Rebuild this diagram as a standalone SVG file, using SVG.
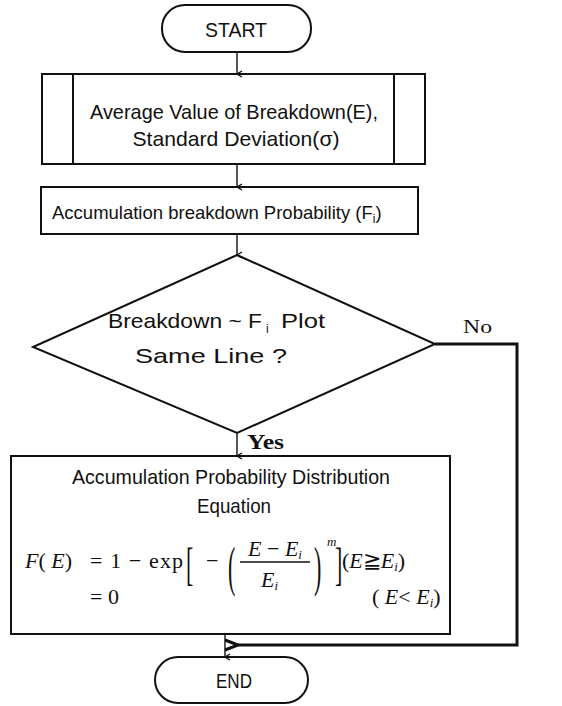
<svg xmlns="http://www.w3.org/2000/svg" width="562" height="706" viewBox="0 0 562 706">
<style>
.shape{fill:#fff;stroke:#111;stroke-width:2}
.conn{fill:none;stroke:#111;stroke-width:1.4}
.bold{fill:none;stroke:#111;stroke-width:3}
.t{font-family:"Liberation Sans",Arial,sans-serif;font-size:21px;fill:#111}
.t2{font-family:"Liberation Sans",Arial,sans-serif;font-size:18.5px;fill:#111}
.sub{font-family:"Liberation Sans",Arial,sans-serif;font-size:12px;fill:#111}
.s{font-family:"Liberation Serif","Times New Roman",serif;fill:#111}
.m{font-family:"Liberation Serif","Times New Roman",serif;font-size:22px;fill:#111}
.i{font-style:italic}
</style>
<defs>
<marker id="ah" markerWidth="8" markerHeight="8" refX="4" refY="7" orient="auto" markerUnits="userSpaceOnUse" viewBox="0 0 8 8">
<path d="M1,2 L4,7 L7,2" fill="none" stroke="#111" stroke-width="1.4"/>
</marker>
<marker id="ahb" markerWidth="16" markerHeight="14" refX="1" refY="7" orient="auto" markerUnits="userSpaceOnUse" viewBox="0 0 16 14">
<path d="M14,2 L1,7 L14,12" fill="none" stroke="#111" stroke-width="3"/>
</marker>
</defs>
<rect width="562" height="706" fill="#fff"/>

<g id="start">
<rect class="shape" x="162" y="5" width="149" height="47" rx="23" ry="23"/>
<text class="t" x="236" y="37" text-anchor="middle" textLength="62" lengthAdjust="spacingAndGlyphs">START</text>
</g>

<g id="average">
<rect class="shape" x="42" y="74" width="383" height="90"/>
<line class="shape" x1="73" y1="74" x2="73" y2="164"/>
<line class="shape" x1="394" y1="74" x2="394" y2="164"/>
<text class="t" x="234" y="119" text-anchor="middle" textLength="288" lengthAdjust="spacingAndGlyphs">Average Value of Breakdown(E),</text>
<text class="t" x="236" y="146" text-anchor="middle" textLength="207" lengthAdjust="spacingAndGlyphs">Standard Deviation(σ)</text>
</g>

<g id="probability">
<rect class="shape" x="41" y="187" width="377" height="47"/>
<text class="t2" x="52" y="219">Accumulation breakdown Probability (F<tspan style="font-size:12px" dy="4">i</tspan><tspan dy="-4">)</tspan></text>
</g>

<g id="decision">
<polygon class="shape" points="237,255 435,344 237,433 33,347"/>
<text class="t" x="108" y="328" textLength="154" lengthAdjust="spacingAndGlyphs">Breakdown  ~ F</text>
<text class="sub" x="266" y="333">i</text>
<text class="t" x="281" y="328" textLength="44" lengthAdjust="spacingAndGlyphs">Plot</text>
<text class="t" x="211" y="363" text-anchor="middle" textLength="152" lengthAdjust="spacingAndGlyphs">Same  Line ?</text>
</g>

<g id="equation">
<rect class="shape" x="11" y="456" width="439" height="178"/>
<text class="t" x="231" y="484" text-anchor="middle" textLength="318" lengthAdjust="spacingAndGlyphs">Accumulation Probability Distribution</text>
<text class="t" x="234" y="513" text-anchor="middle" textLength="74" lengthAdjust="spacingAndGlyphs">Equation</text>
<text class="m" x="25" y="568"><tspan class="i">F</tspan>( <tspan class="i">E</tspan>)</text>
<text class="m" x="90" y="568" textLength="93" lengthAdjust="spacing">= 1 − exp</text>
<text class="m" transform="translate(186,580) scale(1,2.1)" x="0" y="0">[</text>
<text class="m" x="206" y="568">−</text>
<text class="m" transform="translate(228,585) scale(1,2.5)" x="0" y="0">(</text>
<text class="m" x="248" y="556"><tspan class="i">E</tspan> − <tspan class="i">E</tspan><tspan class="i" font-size="13" dy="3">i</tspan></text>
<line x1="240" y1="562" x2="310" y2="562" stroke="#111" stroke-width="1.3"/>
<text class="m" x="261" y="587"><tspan class="i">E</tspan><tspan class="i" font-size="13" dy="3">i</tspan></text>
<text class="m" transform="translate(314,585) scale(1,2.5)" x="0" y="0">)</text>
<text class="s i" font-size="13" x="327" y="546">m</text>
<text class="m" transform="translate(335,580) scale(1,2.1)" x="0" y="0">]</text>
<text class="m" x="342" y="568">(<tspan class="i">E</tspan>≧<tspan class="i">E</tspan><tspan class="i" font-size="13" dy="3">i</tspan><tspan dy="-3">)</tspan></text>
<text class="m" x="90" y="604">= 0</text>
<text class="m" x="372" y="604">( <tspan class="i">E</tspan>&lt; <tspan class="i">E</tspan><tspan class="i" font-size="13" dy="3">i</tspan><tspan dy="-3">)</tspan></text>
</g>

<g id="end">
<rect class="shape" x="155" y="657" width="153" height="46" rx="23" ry="23"/>
<text class="t" x="234" y="688" text-anchor="middle" textLength="36" lengthAdjust="spacingAndGlyphs">END</text>
</g>

<g id="connectors">
<line class="conn" x1="237" y1="52" x2="237" y2="74" marker-end="url(#ah)"/>
<line class="conn" x1="237" y1="164" x2="237" y2="187" marker-end="url(#ah)"/>
<line class="conn" x1="237" y1="234" x2="237" y2="255" marker-end="url(#ah)"/>
<line class="conn" x1="237" y1="433" x2="237" y2="456" marker-end="url(#ah)"/>
<line class="conn" x1="225" y1="634" x2="225" y2="657" marker-end="url(#ah)"/>
<path class="bold" d="M435,344 H517 V645 H238" marker-end="url(#ahb)"/>
<text class="s" font-size="19" x="463" y="333" textLength="29" lengthAdjust="spacingAndGlyphs">No</text>
<text class="s" font-size="21" font-weight="bold" x="247" y="449" textLength="37" lengthAdjust="spacingAndGlyphs">Yes</text>
</g>
</svg>
